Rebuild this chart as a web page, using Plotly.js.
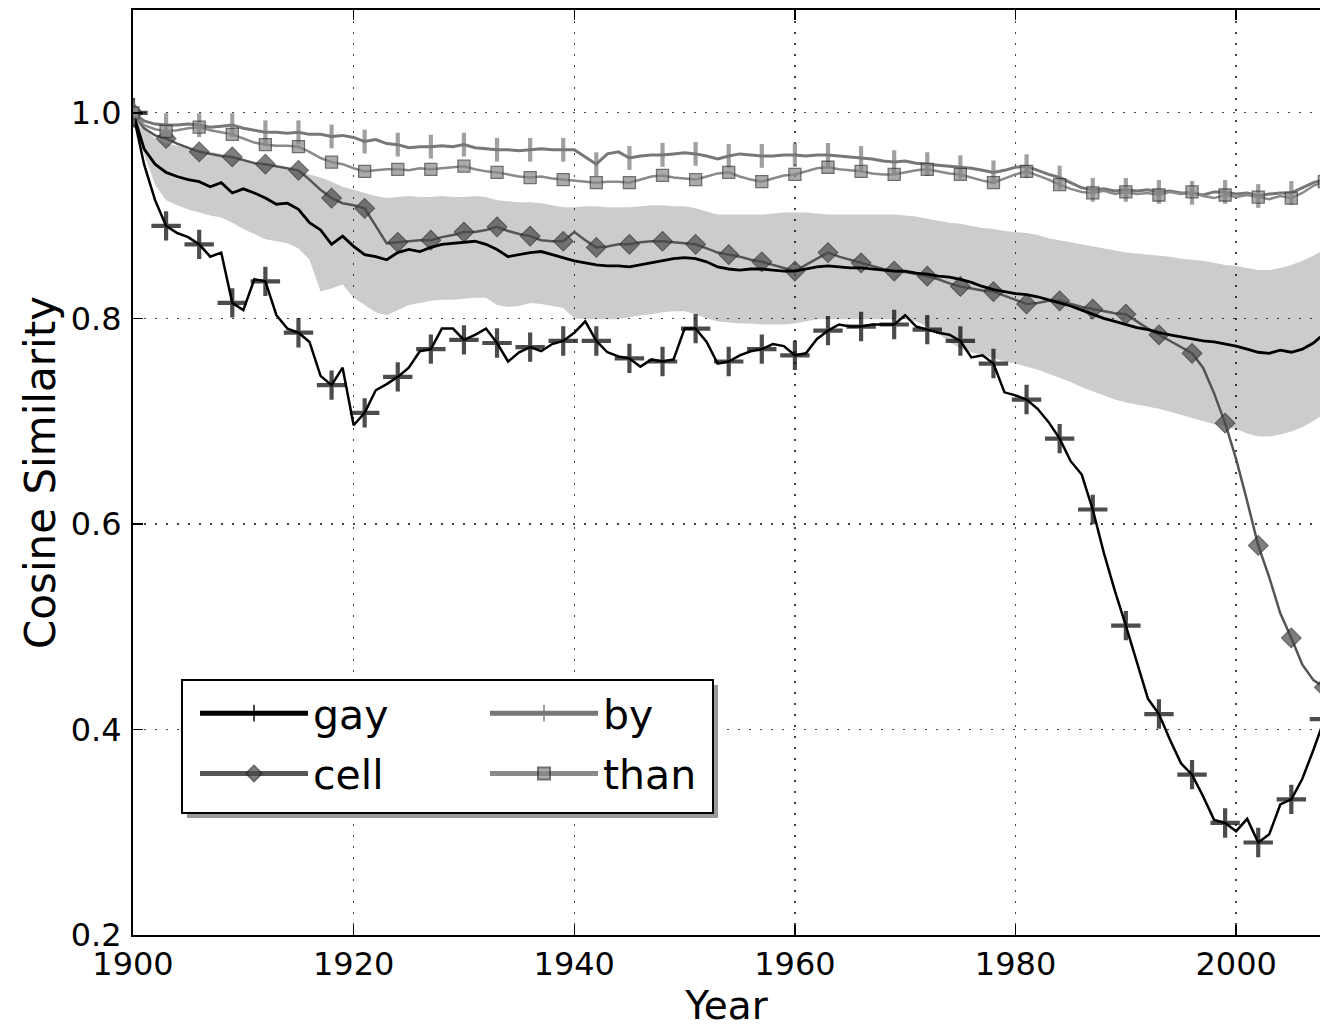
<!DOCTYPE html>
<html><head><meta charset="utf-8">
<script src="https://cdn.plot.ly/plotly-3.0.1.min.js"></script>
<style>html,body{margin:0;padding:0;background:#fff;overflow:hidden}#chart{width:1320px;height:1028px}</style>
</head><body><div id="chart"></div><script>
const startYear = 1900, endYear = 2008;
const years = [];
for (let y = startYear; y <= endYear; y++) years.push(y);

const gay = [
 1.000,0.950,0.915,0.890,0.883,0.879,0.872,0.860,0.864,0.815,
 0.808,0.838,0.836,0.803,0.790,0.786,0.777,0.744,0.735,0.752,
 0.696,0.708,0.730,0.736,0.743,0.752,0.768,0.770,0.790,0.790,
 0.779,0.784,0.790,0.776,0.758,0.767,0.772,0.768,0.775,0.778,
 0.786,0.797,0.778,0.767,0.763,0.761,0.753,0.760,0.758,0.760,
 0.790,0.790,0.777,0.756,0.758,0.764,0.768,0.770,0.775,0.773,
 0.764,0.766,0.780,0.788,0.794,0.792,0.792,0.794,0.794,0.794,
 0.803,0.792,0.789,0.786,0.784,0.778,0.762,0.764,0.756,0.728,
 0.725,0.721,0.712,0.699,0.683,0.661,0.648,0.614,0.572,0.535,
 0.501,0.465,0.430,0.415,0.390,0.367,0.356,0.335,0.312,0.309,
 0.301,0.313,0.290,0.298,0.327,0.332,0.352,0.380,0.410];

const cell = [
 1.000,0.985,0.978,0.975,0.970,0.966,0.962,0.960,0.958,0.957,
 0.954,0.951,0.950,0.948,0.946,0.944,0.935,0.925,0.917,0.912,
 0.910,0.907,0.890,0.873,0.874,0.875,0.876,0.876,0.879,0.881,
 0.884,0.884,0.886,0.889,0.885,0.882,0.880,0.876,0.875,0.875,
 0.884,0.876,0.869,0.870,0.872,0.872,0.874,0.875,0.875,0.874,
 0.873,0.872,0.868,0.864,0.862,0.860,0.857,0.855,0.852,0.849,
 0.846,0.852,0.858,0.864,0.860,0.857,0.854,0.851,0.848,0.846,
 0.845,0.843,0.841,0.838,0.834,0.831,0.829,0.827,0.826,0.822,
 0.818,0.814,0.815,0.817,0.817,0.814,0.811,0.809,0.807,0.805,
 0.804,0.797,0.790,0.784,0.778,0.772,0.766,0.752,0.727,0.698,
 0.663,0.622,0.579,0.548,0.513,0.489,0.463,0.448,0.441];

const by = [
 1.000,0.992,0.989,0.988,0.988,0.989,0.988,0.986,0.987,0.988,
 0.985,0.983,0.981,0.981,0.980,0.981,0.979,0.979,0.977,0.978,
 0.976,0.972,0.974,0.970,0.969,0.966,0.967,0.967,0.968,0.967,
 0.969,0.966,0.965,0.964,0.964,0.963,0.964,0.965,0.964,0.964,
 0.964,0.957,0.950,0.960,0.962,0.956,0.958,0.959,0.959,0.960,
 0.961,0.960,0.958,0.955,0.958,0.960,0.959,0.958,0.958,0.959,
 0.959,0.958,0.959,0.959,0.958,0.957,0.956,0.955,0.953,0.952,
 0.953,0.951,0.950,0.949,0.948,0.947,0.946,0.944,0.942,0.944,
 0.947,0.948,0.944,0.940,0.937,0.932,0.927,0.925,0.926,0.924,
 0.925,0.924,0.925,0.923,0.924,0.922,0.922,0.920,0.923,0.923,
 0.921,0.922,0.919,0.921,0.922,0.922,0.927,0.932,0.935];

const than = [
 1.000,0.988,0.984,0.982,0.983,0.985,0.986,0.983,0.981,0.979,
 0.975,0.971,0.969,0.968,0.968,0.967,0.962,0.956,0.952,0.950,
 0.946,0.943,0.944,0.945,0.945,0.944,0.946,0.945,0.946,0.947,
 0.948,0.945,0.943,0.942,0.940,0.938,0.937,0.938,0.936,0.935,
 0.934,0.933,0.932,0.933,0.933,0.932,0.935,0.938,0.939,0.937,
 0.936,0.935,0.938,0.941,0.942,0.938,0.935,0.933,0.936,0.939,
 0.940,0.943,0.946,0.947,0.945,0.944,0.943,0.941,0.940,0.940,
 0.942,0.944,0.945,0.943,0.941,0.940,0.937,0.934,0.932,0.936,
 0.940,0.943,0.939,0.935,0.930,0.926,0.923,0.922,0.924,0.921,
 0.923,0.921,0.922,0.920,0.923,0.921,0.923,0.919,0.917,0.920,
 0.918,0.920,0.918,0.916,0.919,0.917,0.922,0.929,0.933];

const meanSim = [
 1.000,0.965,0.950,0.942,0.938,0.935,0.933,0.928,0.932,0.922,
 0.926,0.922,0.917,0.911,0.912,0.906,0.893,0.886,0.872,0.880,
 0.870,0.862,0.860,0.857,0.864,0.867,0.865,0.869,0.872,0.873,
 0.874,0.875,0.872,0.867,0.860,0.862,0.864,0.865,0.862,0.859,
 0.856,0.854,0.852,0.851,0.851,0.850,0.852,0.854,0.856,0.858,
 0.859,0.858,0.855,0.850,0.848,0.847,0.848,0.848,0.847,0.846,
 0.846,0.848,0.850,0.851,0.850,0.849,0.849,0.848,0.847,0.846,
 0.846,0.844,0.843,0.841,0.840,0.838,0.835,0.831,0.828,0.826,
 0.824,0.823,0.821,0.818,0.815,0.812,0.808,0.804,0.800,0.797,
 0.794,0.791,0.789,0.786,0.784,0.782,0.780,0.778,0.777,0.775,
 0.773,0.770,0.767,0.766,0.769,0.767,0.770,0.776,0.785];

const bandUpper = [
 1.000,0.985,0.975,0.970,0.968,0.966,0.964,0.962,0.960,0.958,
 0.955,0.952,0.950,0.948,0.946,0.944,0.940,0.937,0.933,0.928,
 0.925,0.922,0.919,0.917,0.918,0.919,0.918,0.918,0.919,0.918,
 0.918,0.919,0.918,0.915,0.914,0.913,0.913,0.912,0.910,0.908,
 0.908,0.909,0.909,0.908,0.908,0.908,0.909,0.910,0.910,0.909,
 0.909,0.907,0.904,0.901,0.901,0.901,0.901,0.901,0.902,0.903,
 0.903,0.903,0.902,0.901,0.901,0.901,0.901,0.901,0.901,0.901,
 0.900,0.899,0.897,0.895,0.893,0.892,0.890,0.888,0.887,0.885,
 0.884,0.883,0.881,0.878,0.876,0.874,0.872,0.870,0.868,0.866,
 0.864,0.863,0.862,0.861,0.860,0.858,0.857,0.856,0.854,0.852,
 0.851,0.849,0.847,0.847,0.849,0.852,0.856,0.861,0.867];

const bandLower = [
 1.000,0.960,0.930,0.915,0.910,0.906,0.903,0.900,0.898,0.893,
 0.887,0.882,0.877,0.875,0.873,0.868,0.857,0.826,0.829,0.833,
 0.820,0.813,0.806,0.803,0.808,0.813,0.815,0.817,0.818,0.818,
 0.819,0.820,0.820,0.813,0.811,0.812,0.815,0.814,0.812,0.810,
 0.800,0.799,0.799,0.799,0.799,0.801,0.803,0.804,0.806,0.807,
 0.807,0.804,0.800,0.797,0.796,0.795,0.795,0.794,0.794,0.794,
 0.795,0.797,0.799,0.799,0.799,0.799,0.799,0.799,0.799,0.799,
 0.799,0.797,0.792,0.785,0.777,0.771,0.767,0.764,0.761,0.758,
 0.756,0.753,0.750,0.746,0.742,0.738,0.733,0.729,0.725,0.721,
 0.718,0.716,0.714,0.712,0.709,0.706,0.703,0.700,0.697,0.695,
 0.692,0.688,0.685,0.685,0.687,0.690,0.694,0.700,0.707];

const xTicks = [1900, 1920, 1940, 1960, 1980, 2000];
const yTicks = [0.2, 0.4, 0.6, 0.8, 1.0];
const seriesNames = ['gay', 'cell', 'by', 'than'];

const FONT = 'DejaVu Sans, sans-serif';
const MARK_EVERY = 3;
const markSizes = s => years.map((y, i) => (i % MARK_EVERY === 0 ? s : 0));

const traces = [
  {x: years, y: bandLower, type: 'scatter', mode: 'lines', line: {width: 0, color: 'rgba(0,0,0,0)'},
   showlegend: false, hoverinfo: 'skip'},
  {x: years, y: bandUpper, type: 'scatter', mode: 'lines', line: {width: 0, color: 'rgba(0,0,0,0)'},
   fill: 'tonexty', fillcolor: 'rgba(0,0,0,0.2)', showlegend: false, hoverinfo: 'skip'},
  {x: years, y: gay, name: seriesNames[0], type: 'scatter', mode: 'lines+markers',
   line: {color: '#000', width: 2.5},
   marker: {symbol: 'cross-thin-open', size: markSizes(21), color: '#000', line: {width: 4.2, color: '#000'}},
   legend: 'legend', legendgroup: 'g1'},
  {x: years, y: cell, name: seriesNames[1], type: 'scatter', mode: 'lines+markers',
   line: {color: '#555', width: 2.5},
   marker: {symbol: 'diamond', size: markSizes(15), color: '#4a4a4a', line: {width: 1.2, color: '#2a2a2a'}},
   legend: 'legend', legendgroup: 'g2'},
  {x: years, y: meanSim, type: 'scatter', mode: 'lines', line: {color: '#000', width: 2.8},
   showlegend: false, hoverinfo: 'skip'},
  {x: years, y: by, name: seriesNames[2], type: 'scatter', mode: 'lines+markers',
   line: {color: '#777', width: 3},
   marker: {symbol: 'line-ns-open', size: markSizes(17), color: '#777', line: {width: 4.2, color: '#777'}},
   legend: 'legend2', legendgroup: 'g3'},
  {x: years, y: than, name: seriesNames[3], type: 'scatter', mode: 'lines+markers',
   line: {color: '#8a8a8a', width: 2.5},
   marker: {symbol: 'square', size: markSizes(12), color: '#888', line: {width: 1.3, color: '#333'}},
   legend: 'legend2', legendgroup: 'g4'}
];

const PW = 1187, PH = 925;
const px2x = p => (p - 133) / PW;
const px2y = p => (935 - p) / PH;

const legendCommon = {
  bgcolor: 'rgba(0,0,0,0)', borderwidth: 0, font: {family: FONT, size: 41, color: '#000'},
  itemwidth: 108, traceorder: 'grouped', tracegroupgap: 4, itemsizing: 'constant',
  xanchor: 'left', yanchor: 'top', itemclick: false, itemdoubleclick: false
};

const layout = {
  width: 1320, height: 1028,
  margin: {l: 133, r: 0, t: 10, b: 93},
  paper_bgcolor: '#fff', plot_bgcolor: '#fff',
  font: {family: FONT, color: '#000', size: 32},
  showlegend: true,
  xaxis: {
    range: [1900, 2007.6], tickvals: xTicks, ticktext: xTicks.map(String),
    tickfont: {family: FONT, size: 32, color: '#000'},
    ticks: 'inside', ticklen: 10, tickwidth: 1.5, tickcolor: '#000',
    showline: true, linecolor: '#000', linewidth: 2, mirror: 'ticks',
    showgrid: true, gridcolor: '#444', gridwidth: 1.4, griddash: '2px,9px',
    zeroline: false, ticklabelstandoff: 0,
    title: {text: 'Year', font: {family: FONT, size: 39, color: '#000'}, standoff: 12}
  },
  yaxis: {
    range: [0.2, 1.1], tickvals: yTicks, tickformat: '.1f',
    tickfont: {family: FONT, size: 32, color: '#000'},
    ticks: 'inside', ticklen: 10, tickwidth: 1.5, tickcolor: '#000',
    showline: true, linecolor: '#000', linewidth: 2, mirror: false,
    showgrid: true, gridcolor: '#444', gridwidth: 1.4, griddash: '2px,9px',
    zeroline: false, ticklabelstandoff: 3,
    title: {text: 'Cosine Similarity', font: {family: FONT, size: 42, color: '#000'}, standoff: 2}
  },
  legend: Object.assign({}, legendCommon, {x: px2x(195), y: px2y(680)}),
  legend2: Object.assign({}, legendCommon, {x: px2x(485), y: px2y(680)}),
  shapes: [
    {type: 'rect', xref: 'paper', yref: 'paper', layer: 'above',
     x0: px2x(187), x1: px2x(718), y0: px2y(818), y1: px2y(685),
     fillcolor: '#999', line: {width: 0}},
    {type: 'rect', xref: 'paper', yref: 'paper', layer: 'above',
     x0: px2x(182), x1: px2x(713), y0: px2y(813), y1: px2y(680),
     fillcolor: '#fff', line: {color: '#000', width: 2}}
  ]
};

Plotly.newPlot('chart', traces, layout, {staticPlot: true, displayModeBar: false});
</script></body></html>
